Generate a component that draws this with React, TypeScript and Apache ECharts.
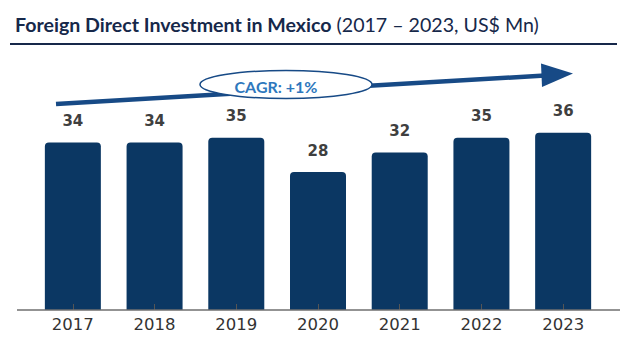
import React, { useEffect, useRef } from "react";
import * as echarts from "echarts";

const years = ["2017", "2018", "2019", "2020", "2021", "2022", "2023"];
const fdiValues = [34, 34, 35, 28, 32, 35, 36];
const titleMain = "Foreign Direct Investment in Mexico";
const titleSub = "(2017 – 2023, US$ Mn)";
const cagrText = "CAGR: +1%";

export default function App() {
  const ref = useRef<HTMLDivElement>(null);
  useEffect(() => {
    if (!ref.current) return;
    const chart = echarts.init(ref.current, null, { renderer: "svg" });
    chart.setOption({
      animation: false,
      backgroundColor: "#ffffff",
      title: {
        left: 10,
        top: 9,
        text: `{b|${titleMain}} {r|${titleSub}}`,
        textStyle: {
          rich: {
            b: { fontFamily: "Lato", fontWeight: "bold", fontSize: 19.6, color: "#16284a" },
            r: { fontFamily: "Lato", fontWeight: "normal", fontSize: 19.6, color: "#16284a" },
          },
        },
      },
      grid: { left: 32, right: 33, top: 113, bottom: 30, containLabel: false },
      xAxis: {
        type: "category",
        data: years,
        z: 5,
        axisLine: { show: false },
        axisTick: { show: true, inside: true, alignWithLabel: true, length: 6, lineStyle: { color: "#555", width: 1 } },
        axisLabel: { fontFamily: "DejaVu Sans", fontSize: 16.5, color: "#333", margin: 6 },
      },
      yAxis: { type: "value", min: 0, max: 40, show: false, splitLine: { show: false } },
      series: [
        {
          type: "bar",
          data: fdiValues,
          barWidth: 56,
          itemStyle: { color: "#0b3763", borderRadius: [4, 4, 0, 0] },
          label: {
            show: true,
            position: "top",
            distance: 14,
            fontFamily: "DejaVu Sans",
            fontWeight: "bold",
            fontSize: 15,
            color: "#3f3f3f",
          },
        },
      ],
      graphic: [
        { type: "line", shape: { x1: 10, y1: 44, x2: 617, y2: 44 }, style: { stroke: "#16284a", lineWidth: 2 } },
        { type: "line", shape: { x1: 17, y1: 310, x2: 620, y2: 310 }, style: { stroke: "#6f6f6f", lineWidth: 1.3 }, z: 10 },
        { type: "line", shape: { x1: 56, y1: 104, x2: 545, y2: 75.5 }, style: { stroke: "#174a86", lineWidth: 4.5 }, z: 10 },
        { type: "polygon", shape: { points: [[541, 63.5], [573, 73.5], [542, 87]] }, style: { fill: "#174a86" }, z: 10 },
        { type: "ellipse", shape: { cx: 286, cy: 84.5, rx: 86, ry: 14 }, style: { fill: "#ffffff", stroke: "#174a86", lineWidth: 1.5 }, z: 11 },
        {
          type: "text",
          x: 276,
          y: 86,
          z: 12,
          style: {
            text: cagrText,
            fontFamily: "Lato",
            fontWeight: "bold",
            fontSize: 16,
            fill: "#2e78bd",
            align: "center",
            verticalAlign: "middle",
          },
        },
      ],
    });
    return () => chart.dispose();
  }, []);
  return <div ref={ref} style={{ width: 637, height: 340, position: "absolute", left: 0, top: 0 }} />;
}
